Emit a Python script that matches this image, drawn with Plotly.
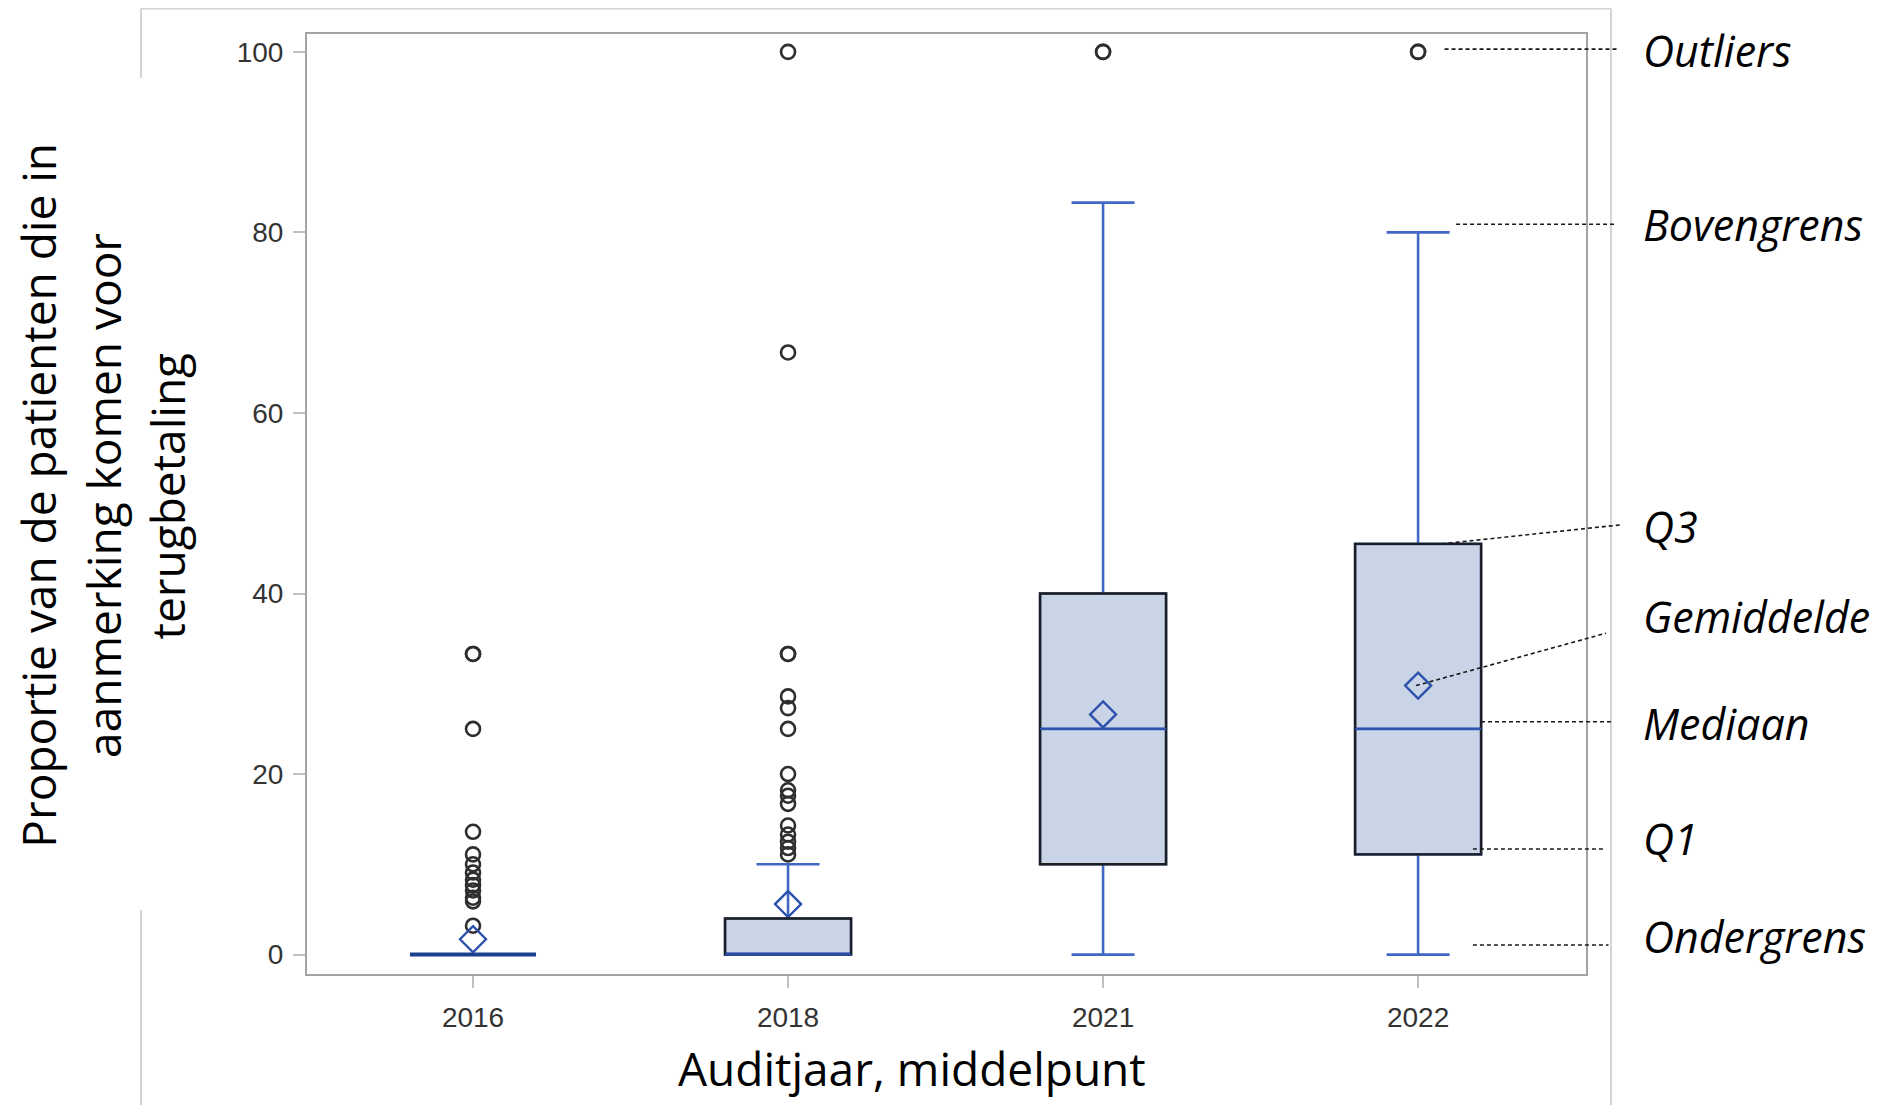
import plotly.graph_objects as go

# ---------------- data ----------------
years = ["2016", "2018", "2021", "2022"]
q1 = [0, 0, 10, 11.1]
median = [0, 0, 25, 25]
q3 = [0, 4, 40, 45.5]
lowerfence = [0, 0, 0, 0]
upperfence = [0, 10, 83.3, 80]
mean = [1.7, 5.6, 26.6, 29.8]
outliers_2016 = [33.3, 33.3, 25, 13.6, 11.1, 10, 9.1, 8.3, 7.7, 7.1, 6.3, 5.9, 3.2]
outliers_2018 = [100, 66.7, 33.3, 33.3, 28.6, 27.3, 25, 20, 18.2, 17.6, 16.7,
                 14.3, 13.3, 12.5, 11.8, 11.1]
outliers_2021 = [100, 100]
outliers_2022 = [100, 100]
outliers = [outliers_2016, outliers_2018, outliers_2021, outliers_2022]
y_ticks = [0, 20, 40, 60, 80, 100]

# annotation labels on the right (label, y of text, y of line start, y of line end)
label_names = ["Outliers", "Bovengrens", "Q3", "Gemiddelde", "Mediaan", "Q1", "Ondergrens"]
label_text_y = [100.1, 80.9, 47.4, 37.4, 25.6, 12.9, 2.0]
label_line_y0 = [100.3, 80.9, 45.5, 29.8, 25.8, 11.7, 1.07]
label_line_y1 = [100.3, 80.9, 47.6, 35.6, 25.8, 11.7, 1.07]
label_line_x0 = [0.8894, 0.8984, 0.8872, 0.8671, 0.9179, 0.9116, 0.9116]
label_line_x1 = [1.0242, 1.0242, 1.0266, 1.0156, 1.0199, 1.0156, 1.0176]

# ---------------- styling ----------------
BLUE = "#4068c4"
MED_BLUE = "#2d52ad"
FILL = "#c9d5e6"
BOX_W = 0.40
positions = list(range(len(years)))

fig = go.Figure()

fig.add_trace(go.Box(
    x=positions, q1=q1, median=median, q3=q3,
    lowerfence=lowerfence, upperfence=upperfence,
    boxpoints=False, width=BOX_W, whiskerwidth=0.5,
    fillcolor=FILL, line=dict(color=BLUE, width=2.6),
    hoverinfo="skip", showlegend=False,
))

# black outline of the boxes and the median line
for i in positions:
    fig.add_shape(type="rect", xref="x", yref="y",
                  x0=positions[i] - BOX_W / 2, x1=positions[i] + BOX_W / 2,
                  y0=q1[i], y1=q3[i],
                  line=dict(color="#1e1e1e", width=2.4), layer="above")
    flat = q3[i] <= q1[i]
    fig.add_shape(type="line", xref="x", yref="y",
                  x0=positions[i] - BOX_W / 2, x1=positions[i] + BOX_W / 2,
                  y0=median[i], y1=median[i],
                  line=dict(color="#1c3f8f" if flat else MED_BLUE,
                            width=4 if flat else 2.2),
                  layer="above")

# outliers
ox, oy = [], []
for i, vals in enumerate(outliers):
    ox += [positions[i]] * len(vals)
    oy += vals
fig.add_trace(go.Scatter(
    x=ox, y=oy, mode="markers",
    marker=dict(symbol="circle-open", size=14, color="#2e2e2e", line=dict(width=2.6)),
    hoverinfo="skip", showlegend=False,
))

# means
fig.add_trace(go.Scatter(
    x=positions, y=mean, mode="markers",
    marker=dict(symbol="diamond-open", size=20, color=MED_BLUE, line=dict(width=2.4)),
    hoverinfo="skip", showlegend=False,
))

# ---------------- outer frame (light gray, with gap behind y title) ----------------
FR = dict(color="#d3d3d3", width=2)
fx0, fx1, fy_top, fy_bot = -0.1298, 1.0195, 1.0272, -0.1394
fig.add_shape(type="line", xref="paper", yref="paper", x0=fx0, x1=fx1, y0=fy_top, y1=fy_top, line=FR, layer="below")
fig.add_shape(type="line", xref="paper", yref="paper", x0=fx1, x1=fx1, y0=fy_top, y1=fy_bot, line=FR, layer="below")
fig.add_shape(type="line", xref="paper", yref="paper", x0=fx0, x1=fx0, y0=fy_top, y1=0.9532, line=FR, layer="below")
fig.add_shape(type="line", xref="paper", yref="paper", x0=fx0, x1=fx0, y0=0.0681, y1=fy_bot, line=FR, layer="below")

# ---------------- right-hand labels with dashed connectors ----------------
for name, ty, y0, y1, x0, x1 in zip(label_names, label_text_y, label_line_y0,
                                     label_line_y1, label_line_x0, label_line_x1):
    fig.add_shape(type="line", xref="paper", yref="y", x0=x0, x1=x1, y0=y0, y1=y1,
                  line=dict(color="#1a1a1a", width=1.6, dash="4px,3px"), layer="above")
    fig.add_annotation(xref="paper", yref="y", x=1.0431, y=ty, text=name,
                       showarrow=False, xanchor="left", yanchor="middle",
                       font=dict(family="Open Sans", size=43, color="#000000", style="italic"))

# ---------------- axis titles ----------------
ytitle_lines = ["Proportie van de patienten die in", "aanmerking komen voor", "terugbetaling"]
ytitle_x = [-0.211, -0.160, -0.1095]
for txt, xx in zip(ytitle_lines, ytitle_x):
    fig.add_annotation(xref="paper", yref="paper", x=xx, y=0.509, text=txt,
                       textangle=-90, showarrow=False, xanchor="center", yanchor="middle",
                       font=dict(family="Open Sans", size=46, color="#000000"))
fig.add_annotation(xref="paper", yref="paper", x=0.473, y=-0.100,
                   text="Auditjaar, middelpunt", showarrow=False,
                   xanchor="center", yanchor="middle",
                   font=dict(family="Open Sans", size=46, color="#000000"))

AX = dict(showline=True, mirror=True, linecolor="#a3a3a3", linewidth=2,
          ticks="outside", ticklen=12, tickwidth=2, tickcolor="#c0c0c0",
          showgrid=False, zeroline=False,
          tickfont=dict(family="Liberation Sans", size=28, color="#333333"))

# the page body adds an 8px offset, so the plot area is shifted back by that much
fig.update_layout(
    width=1888, height=1105,
    margin=dict(l=299, r=310, t=26, b=139),
    paper_bgcolor="white", plot_bgcolor="white",
    showlegend=False,
    xaxis=dict(range=[-0.527, 3.533], tickvals=positions, ticktext=years,
               ticklabelstandoff=5, **AX),
    yaxis=dict(range=[-2.15, 101.98], tickvals=y_ticks, ticklabelstandoff=4, **AX),
)

fig.write_html("out.html")
